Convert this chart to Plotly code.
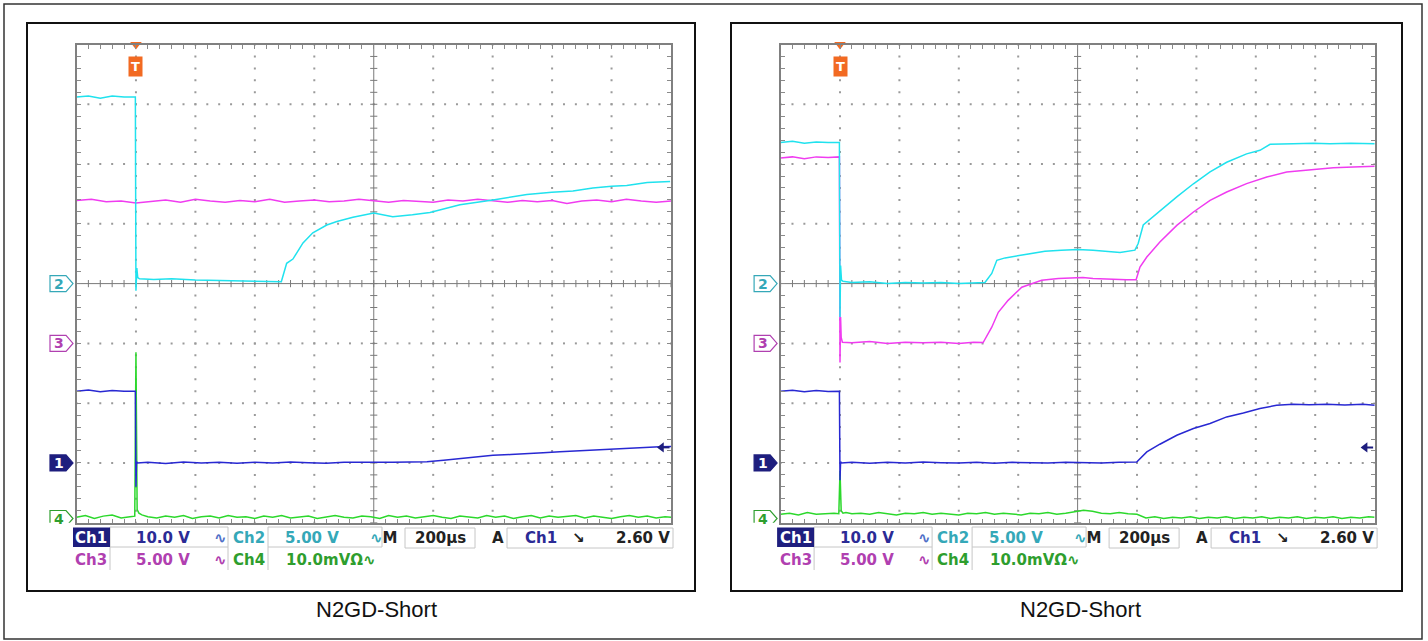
import plotly.graph_objects as go

W, H = 1428, 641

# ---------------- scope settings ----------------
TIME_RANGE = [-200, 1800]          # µs  (200 µs/div, trigger at 1 div)
CH_SCALE = {"1": 10.0, "2": 5.0, "3": 5.0, "4": 10.0}      # V/div (Ch4: mV/div)
CH_OFFSET = {"1": -3.0, "2": 0.0, "3": -1.0, "4": -3.93}   # ground marker, divisions
TRIG_LEVEL = 2.60                  # V on Ch1
CAPTION = "N2GD-Short"

# ---------------- left capture ----------------
t_ch2_L = [-200, -160, -120, -80, -40, -2, 0, 3, 6, 12, 60, 120, 200, 280, 360, 440,
           489, 507, 528, 562, 595, 642, 676, 730, 800, 864, 930, 989,
           1090, 1201, 1315, 1399, 1470, 1537, 1600, 1651, 1720, 1797]
v_ch2_L = [15.6, 15.7, 15.5, 15.7, 15.6, 15.6, -0.6, 1.3, 0.5, 0.4, 0.35, 0.4, 0.3, 0.25, 0.2, 0.2,
           0.15, 1.7, 2.05, 3.4, 4.25, 4.9, 5.2, 5.55, 5.9, 5.6, 5.75, 5.95,
           6.6, 7.0, 7.45, 7.65, 7.75, 8.0, 8.15, 8.2, 8.45, 8.55]

t_ch3_L = [-200, -150, -100, -50, 0, 50, 100, 150, 200, 250,
           300, 350, 400, 450, 500, 550, 600, 650, 700, 750,
           800, 850, 900, 950, 1000, 1050, 1100, 1150, 1200, 1250,
           1300, 1350, 1400, 1450, 1500, 1550, 1600, 1650, 1700, 1750, 1800]
v_ch3_L = [11.95, 12.05, 11.85, 11.9, 11.75, 11.9, 12.0, 11.8, 12.05, 11.9,
           11.8, 11.95, 11.85, 12.05, 11.8, 11.9, 12.0, 11.85, 11.9, 12.05,
           11.9, 11.8, 11.95, 11.9, 11.8, 12.0, 11.9, 12.05, 11.9, 11.8,
           11.95, 11.85, 11.95, 11.7, 11.9, 12.0, 11.85, 12.05, 11.9, 11.8, 11.9]

t_ch1_L = [-200, -160, -120, -80, -40, -2, 0, 2, 5,
           40, 100, 160, 220, 280, 340, 400, 460, 520, 580, 640, 700, 760, 820,
           864, 920, 979, 1035, 1090, 1150, 1201, 1260, 1315, 1370,
           1426, 1480, 1537, 1600, 1651, 1710, 1762, 1800]
v_ch1_L = [12.0, 12.2, 11.9, 12.1, 12.0, 12.0, -4.0, 0.2, 0.0,
           0.1, -0.1, 0.15, 0.0, 0.1, -0.05, 0.1, 0.0, 0.15, 0.05, -0.05, 0.1, 0.05, 0.1,
           0.1, 0.1, 0.2, 0.45, 0.75, 1.05, 1.3, 1.4, 1.6, 1.7,
           1.85, 2.0, 2.1, 2.3, 2.4, 2.55, 2.7, 2.75]

t_ch4 = [-200, -170, -140, -110, -80, -50, -20, -4, 0, 4, 10, 20, 40,
         70, 100, 130, 160, 190, 220, 250, 280, 310, 340,
         370, 400, 430, 460, 490, 520, 550, 580, 610, 640,
         670, 700, 730, 760, 790, 820, 850, 880, 910, 940,
         970, 1000, 1030, 1060, 1090, 1120, 1150, 1180, 1210, 1240,
         1270, 1300, 1330, 1360, 1390, 1420, 1450, 1480, 1510, 1540,
         1570, 1600, 1630, 1660, 1690, 1720, 1750, 1780, 1800]
v_ch4_L = [0.2, 0.5, 0.0, 0.4, 0.6, 0.1, 0.3, 0.4, 27.8, 1.5, 0.9, 0.6, 0.3,
           0.1, 0.4, 0.2, 0.5, 0.0, 0.3, 0.4, 0.1, 0.5, 0.2,
           0.3, 0.0, 0.4, 0.2, 0.5, 0.1, 0.3, 0.4, 0.0, 0.3,
           0.5, 0.2, 0.1, 0.4, 0.3, 0.0, 0.5, 0.2, 0.4, 0.1,
           0.3, 0.5, 0.2, 0.0, 0.4, 0.3, 0.1, 0.5, 0.2, 0.4,
           0.0, 0.3, 0.5, 0.1, 0.4, 0.2, 0.3, 0.5, 0.1, 0.4,
           0.2, 0.0, 0.3, 0.5, 0.2, 0.4, 0.1, 0.3, 0.2]

# ---------------- right capture ----------------
t_ch2_R = [-200, -160, -120, -80, -40, -2, 0, 2, 5, 10,
           40, 100, 160, 220, 280, 340, 400, 460,
           488, 511, 528, 556, 623, 690, 745, 801, 852, 900, 943, 993,
           1004, 1021, 1078, 1134, 1190, 1246, 1302, 1369, 1414, 1448,
           1526, 1593, 1650, 1720, 1801]
v_ch2_R = [11.8, 11.9, 11.75, 11.85, 11.8, 11.8, -2.8, 1.5, 0.3, 0.2,
           0.1, 0.15, 0.0, 0.1, 0.05, 0.1, 0.0, 0.05,
           0.1, 0.85, 1.95, 2.15, 2.4, 2.7, 2.8, 2.85, 2.8, 2.7, 2.6, 2.8,
           3.35, 4.9, 6.1, 7.25, 8.35, 9.35, 10.15, 10.85, 11.15, 11.65,
           11.7, 11.75, 11.7, 11.75, 11.7]

t_ch3_R = [-200, -160, -120, -80, -40, -2, 0, 2, 4, 8,
           40, 100, 160, 220, 280, 340, 400, 450,
           482, 511, 533, 566, 612, 679, 735, 818, 852, 910, 965, 997,
           1010, 1033, 1077, 1134, 1190, 1246, 1302, 1369, 1437, 1504,
           1582, 1661, 1728, 1801]
v_ch3_R = [15.5, 15.6, 15.45, 15.6, 15.55, 15.6, -1.6, 2.2, 0.5, 0.1,
           0.05, 0.15, 0.0, 0.1, 0.05, 0.1, 0.0, 0.1,
           0.07, 1.35, 2.6, 3.6, 4.7, 5.28, 5.42, 5.5, 5.42, 5.35, 5.33, 5.33,
           6.39, 7.22, 8.48, 9.87, 10.99, 11.96, 12.66, 13.36, 13.92, 14.33,
           14.53, 14.7, 14.75, 14.81]

t_ch1_R = [-200, -160, -120, -80, -40, -2, 0, 2, 5,
           40, 100, 160, 220, 280, 340, 400, 460, 520, 580, 640, 700, 760, 820, 880, 940,
           999, 1033, 1077, 1134, 1190, 1246, 1302, 1358, 1414, 1470,
           1526, 1580, 1639, 1700, 1760, 1801]
v_ch1_R = [12.0, 12.15, 11.9, 12.1, 11.95, 12.0, -2.9, 0.2, 0.0,
           0.1, -0.05, 0.1, 0.0, 0.15, 0.05, 0.0, 0.1, -0.05, 0.1, 0.05, 0.0, 0.1, 0.05, 0.0, 0.1,
           0.17, 1.84, 3.13, 4.63, 5.75, 6.59, 7.7, 8.36, 9.1, 9.65,
           9.82, 9.75, 9.82, 9.7, 9.8, 9.65]

v_ch4_R = [0.7, 0.9, 0.6, 1.0, 0.7, 0.8, 0.9, 0.8, 8.0, 1.3, 0.9, 1.0, 0.8,
           0.9, 0.7, 1.0, 0.8, 0.6, 0.9, 0.8, 1.0, 0.7, 0.9,
           0.8, 0.6, 0.9, 0.8, 1.0, 0.7, 0.9, 0.8, 0.6, 0.9,
           0.8, 1.0, 0.7, 0.9, 1.1, 1.4, 1.2, 0.9, 0.8, 1.0,
           0.8, 0.7, 0.1, 0.3, 0.0, 0.2, 0.1, 0.3, 0.0, 0.2,
           0.1, 0.3, 0.0, 0.2, 0.1, 0.3, 0.0, 0.2, 0.1, 0.3,
           0.0, 0.2, 0.1, 0.3, 0.0, 0.2, 0.1, 0.3, 0.2]

# readout texts
READ_ROW1 = ["Ch1", "10.0 V", "Ch2", "5.00 V", "M", "200µs", "A", "Ch1", "2.60 V"]
READ_ROW2 = ["Ch3", "5.00 V", "Ch4", "10.0mVΩ"]

COL = {"1": "#2828D2", "2": "#20E2EE", "3": "#F03CF0", "4": "#2CD82C"}
TXT = {"1": "#2B2B95", "2": "#35A8B8", "3": "#B040B0", "4": "#2E9E2E", "k": "#222222"}
NAVY = "#1E1E7E"
ORANGE = "#F26A22"


def px(x):
    return x / W


def py(y):
    return 1 - y / H


def to_div(vals, ch):
    return [v / CH_SCALE[ch] + CH_OFFSET[ch] for v in vals]


def ann(**kw):
    d = dict(showarrow=False, xanchor="center", yanchor="middle")
    d.update(kw)
    return d


PANELS = [
    dict(xa="x", ya="y", dx=0.0, frame=(27, 695),
         data={"4": (t_ch4, v_ch4_L), "1": (t_ch1_L, v_ch1_L),
               "3": (t_ch3_L, v_ch3_L), "2": (t_ch2_L, v_ch2_L)}),
    dict(xa="x2", ya="y2", dx=704.1, frame=(731, 1402),
         data={"4": (t_ch4, v_ch4_R), "1": (t_ch1_R, v_ch1_R),
               "3": (t_ch3_R, v_ch3_R), "2": (t_ch2_R, v_ch2_R)}),
]
GY0, GY1 = 44.5, 522.7

fig = go.Figure()
shapes = []
annotations = []

for i, P in enumerate(PANELS):
    xa, ya = P["xa"], P["ya"]
    # --- graticule dots
    gx, gy = [], []
    for k in range(1, 10):
        if k == 5:
            continue
        tt = TIME_RANGE[0] + 200 * k
        for j in range(-20, 21):
            gx.append(tt)
            gy.append(j * 0.2)
    for d in (-3, -2, -1, 1, 2, 3):
        for j in range(0, 51):
            gx.append(TIME_RANGE[0] + 40 * j)
            gy.append(d)
    fig.add_trace(go.Scatter(x=gx, y=gy, mode="markers", xaxis=xa, yaxis=ya,
                             marker=dict(symbol="square", size=2, color="#9A9A9A"),
                             hoverinfo="skip"))
    # --- centre crosshair with minor ticks
    cx, cy = [TIME_RANGE[0], TIME_RANGE[1], None, 800, 800, None], [0, 0, None, -4, 4, None]
    for j in range(0, 51):
        tt = TIME_RANGE[0] + 40 * j
        cx += [tt, tt, None]
        cy += [-0.06, 0.06, None]
    for j in range(-20, 21):
        cx += [788, 812, None]
        cy += [j * 0.2, j * 0.2, None]
    fig.add_trace(go.Scatter(x=cx, y=cy, mode="lines", xaxis=xa, yaxis=ya,
                             line=dict(color="#7A7A7A", width=1), hoverinfo="skip"))
    # --- waveforms
    for ch in ("4", "1", "3", "2"):
        tt, vv = P["data"][ch]
        fig.add_trace(go.Scatter(x=tt, y=to_div(vv, ch), mode="lines", xaxis=xa, yaxis=ya,
                                 line=dict(color=COL[ch], width=1.5), hoverinfo="skip"))
    # --- trigger position marker & trigger level arrow
    fig.add_trace(go.Scatter(x=[0], y=[4], mode="markers", xaxis=xa, yaxis=ya, cliponaxis=False,
                             marker=dict(symbol="triangle-down", size=10, color=ORANGE),
                             hoverinfo="skip"))
    tl = TRIG_LEVEL / CH_SCALE["1"] + CH_OFFSET["1"]
    fig.add_trace(go.Scatter(x=[1768, 1795], y=[tl, tl], mode="lines", xaxis=xa, yaxis=ya,
                             cliponaxis=False, line=dict(color=NAVY, width=2), hoverinfo="skip"))
    fig.add_trace(go.Scatter(x=[1768], y=[tl], mode="markers", xaxis=xa, yaxis=ya,
                             cliponaxis=False,
                             marker=dict(symbol="triangle-left", size=9, color=NAVY),
                             hoverinfo="skip"))
    annotations.append(ann(x=0, y=3.64, xref=xa, yref=ya, text="<b>T</b>",
                           font=dict(family="DejaVu Sans", size=13, color="white"),
                           bgcolor=ORANGE, borderpad=2))

    dx = P["dx"]
    # --- channel ground markers
    hh = 8 / 59.8
    for ch in ("2", "3", "1", "4"):
        yv = CH_OFFSET[ch]
        filled = ch == "1"
        path = (f"M {px(50 + dx)},{yv + hh} L {px(66 + dx)},{yv + hh} L {px(73 + dx)},{yv} "
                f"L {px(66 + dx)},{yv - hh} L {px(50 + dx)},{yv - hh} Z")
        shapes.append(dict(type="path", path=path, xref="paper", yref=ya,
                           fillcolor=NAVY if filled else "white",
                           line=dict(color=NAVY if filled else TXT[ch], width=1.2)))
        annotations.append(ann(x=px(58.5 + dx), y=yv, xref="paper", yref=ya, text=f"<b>{ch}</b>",
                               font=dict(family="DejaVu Sans", size=14,
                                         color="white" if filled else TXT[ch])))

    # --- panel frame
    f0, f1 = P["frame"]
    shapes.append(dict(type="rect", xref="paper", yref="paper",
                       x0=px(f0), x1=px(f1), y0=py(591), y1=py(23),
                       line=dict(color="#111111", width=2)))

    # --- readout boxes
    gray = dict(color="#C6C6C6", width=1)
    boxes = [(110, 228, 527, 547), (268, 382, 527, 547), (405, 475, 528, 548), (507, 673, 528, 548)]
    for (a, b, c, d) in boxes:
        shapes.append(dict(type="rect", xref="paper", yref="paper", x0=px(a + dx), x1=px(b + dx),
                           y0=py(d), y1=py(c), line=gray))
    for (a, c, d) in [(110, 547, 570), (228, 547, 570), (268, 547, 570)]:
        shapes.append(dict(type="line", xref="paper", yref="paper", x0=px(a + dx), x1=px(a + dx),
                           y0=py(d), y1=py(c), line=gray))
    shapes.append(dict(type="rect", xref="paper", yref="paper", x0=px(73 + dx), x1=px(110 + dx),
                       y0=py(547), y1=py(527.5), fillcolor=NAVY, line=dict(width=0)))

    r1, r2 = 537.5, 559.5
    items = [
        (READ_ROW1[0], 91.5, r1, "white"),
        (READ_ROW1[1], 163, r1, TXT["1"]),
        ("∿", 220, r1, "#5070C8"),
        (READ_ROW1[2], 249, r1, TXT["2"]),
        (READ_ROW1[3], 312, r1, TXT["2"]),
        (f"<span style='color:{TXT['2']}'>∿</span>{READ_ROW1[4]}", 384, r1, TXT["k"]),
        (READ_ROW1[5], 440, r1, TXT["k"]),
        (READ_ROW1[6], 498, r1, TXT["k"]),
        (READ_ROW1[7], 541, r1, TXT["1"]),
        ("↘", 578, r1, TXT["k"]),
        (READ_ROW1[8], 643, r1, TXT["k"]),
        (READ_ROW2[0], 91.5, r2, TXT["3"]),
        (READ_ROW2[1], 163, r2, TXT["3"]),
        ("∿", 220, r2, TXT["3"]),
        (READ_ROW2[2], 249, r2, TXT["4"]),
        (READ_ROW2[3] + "∿", 331, r2, TXT["4"]),
    ]
    for (txt, xx, yy, c) in items:
        annotations.append(ann(x=px(xx + dx), y=py(yy), xref="paper", yref="paper",
                               text=f"<b>{txt}</b>",
                               font=dict(family="DejaVu Sans", size=15, color=c)))
    annotations.append(ann(x=px(376 + dx), y=py(609), xref="paper", yref="paper",
                           text=CAPTION,
                           font=dict(family="Liberation Sans", size=22, color="#111111")))

# outer image border
shapes.append(dict(type="rect", xref="paper", yref="paper", x0=px(4), x1=px(1422),
                   y0=py(639), y1=py(4), line=dict(color="#333333", width=1.5)))

axis_common = dict(showline=True, linecolor="#808080", linewidth=2, mirror="ticks",
                   ticks="inside", ticklen=4, tickwidth=1, tickcolor="#8A8A8A",
                   showticklabels=False, showgrid=False, zeroline=False, fixedrange=True)

fig.update_layout(
    width=W, height=H, margin=dict(l=0, r=0, t=0, b=0),
    paper_bgcolor="white", plot_bgcolor="white", showlegend=False,
    xaxis=dict(domain=[px(76.5), px(671.0)], range=TIME_RANGE, dtick=40, tick0=-200,
               anchor="y", **axis_common),
    yaxis=dict(domain=[py(GY1), py(GY0)], range=[-4, 4], dtick=0.2, tick0=-4,
               anchor="x", **axis_common),
    xaxis2=dict(domain=[px(780.6), px(1374.6)], range=TIME_RANGE, dtick=40, tick0=-200,
                anchor="y2", **axis_common),
    yaxis2=dict(domain=[py(GY1), py(GY0)], range=[-4, 4], dtick=0.2, tick0=-4,
                anchor="x2", **axis_common),
    shapes=shapes, annotations=annotations,
)

fig.write_html("out.html", config={"displayModeBar": False},
               post_script="document.body.style.margin='0px';")
